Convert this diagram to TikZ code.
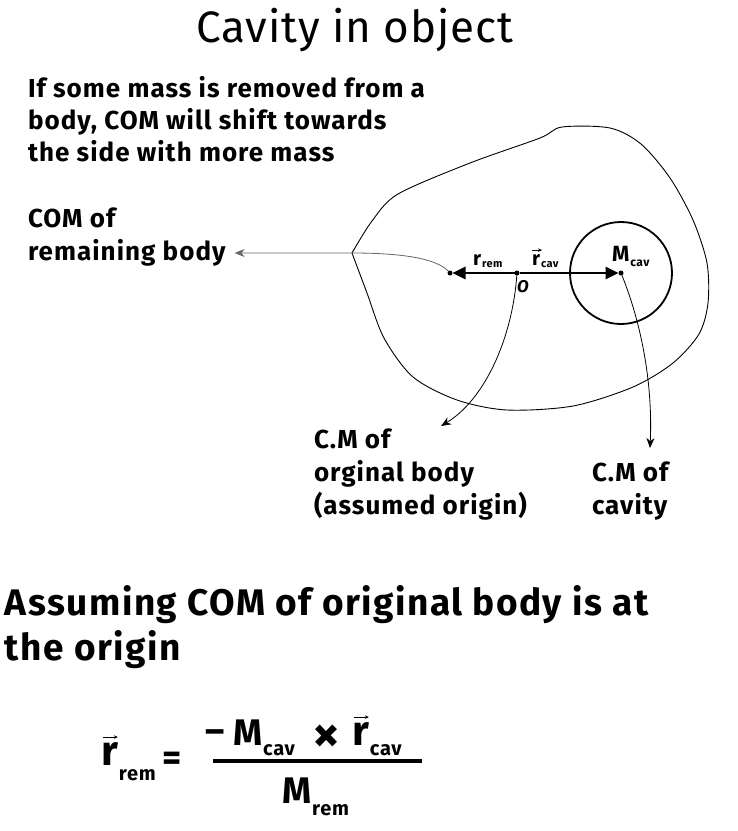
\documentclass[tikz,border=0pt]{standalone}
\usepackage{fontspec}
\setmainfont{Fira Sans}[LetterSpace=4]
\newfontfamily\titlefont{Fira Sans}[LetterSpace=2]
\usetikzlibrary{arrows.meta,calc}
\begin{document}
\begin{tikzpicture}[x=1pt,y=-1pt,
  every node/.style={inner sep=0pt,outer sep=0pt},
  titlest/.style={font=\titlefont\fontsize{44}{50}\selectfont,anchor=base},
  txt/.style={font=\bfseries\fontsize{26}{32}\selectfont,anchor=base west},
  bigtxt/.style={font=\bfseries\fontsize{37}{45}\selectfont,anchor=base west},
  fr/.style={font=\bfseries\fontsize{42}{46}\selectfont,anchor=base west},
  fm/.style={font=\bfseries\fontsize{37}{42}\selectfont,anchor=base west},
  fs/.style={font=\bfseries\fontsize{20}{22}\selectfont,anchor=base west},
  lr/.style={font=\bfseries\fontsize{20}{22}\selectfont,anchor=base west},
  lm/.style={font=\bfseries\fontsize{22}{24}\selectfont,anchor=base west},
  ls/.style={font=\bfseries\fontsize{11}{12}\selectfont,anchor=base west},
  dotst/.style={circle,fill=black,minimum size=5pt},
  conn/.style={line width=0.8pt,-{Stealth[length=10pt,width=8pt]}},
  vec/.style={line width=2.6pt,-{Triangle[length=13pt,width=12pt]}},
  varrow/.style={line width=0.7pt,-{Stealth[length=4pt,width=3.5pt]}}
]
\useasboundingbox (0,0) rectangle (738,831);

% title
\node[titlest] (title) at (355,42) {Cavity in object};

% intro text
\node[txt] (i1) at (28,97) {If some mass is removed from a};
\node[txt] (i2) at (28,129) {body, COM will shift towards};
\node[txt] (i3) at (28,161) {the side with more mass};

% body outline
\coordinate (lp) at (352,253);
\draw[line width=0.9pt] plot[smooth,tension=0.5] coordinates {(352,253) (372,221) (398,194) (470,163) (540,138) (562,127) (610,128) (641,144) (670,178) (693,220) (707,263) (708,303) (699,334) (673,363) (633,387) (573,406) (507,410) (457,400) (413,377) (384,338) (367,293) (352,253)};

% cavity
\draw[line width=1.8pt] (621,273) circle[radius=51pt];

% dots
\node[dotst] (rd) at (450,273) {};
\node[dotst] (od) at (517,273) {};
\node[dotst] (cd) at (621,273) {};

% vectors
\draw[vec] (od) -- (rd);
\draw[vec] (od) -- (cd);

% vector labels
\node[lr] (rr) at (473,265) {r};
\node[ls] (rrs) at ($(rr.base east)+(1,2)$) {rem};
\node[lr] (rc) at (532,265) {r};
\draw[varrow] ($(rc.north west)+(0,-4)$) -- ($(rc.north east)+(2,-4)$);
\node[ls] (rcs) at ($(rc.base east)+(1,2)$) {cav};
\node[lm] (mc) at (612,261) {M};
\node[ls,font=\bfseries\fontsize{12}{13}\selectfont] (mcs) at ($(mc.base east)+(1,5)$) {cav};
\node[font=\bfseries\itshape\fontsize{17}{18}\selectfont,anchor=base west] (o) at (517,292) {O};

% labels
\node[txt] (c1) at (28,227) {COM of};
\node[txt] (c2) at (28,260) {remaining body};
\coordinate (comtip) at ($(c2.base east)+(9,-7)$);

\node[txt] (a1) at (314,448) {C.M of};
\node[txt] (a2) at (314,481) {orginal body};
\node[txt] (a3) at (314,514) {(assumed origin)};
\coordinate (tip1) at (441,426);

\node[txt] (b1) at (592,481) {C.M of};
\node[txt] (b2) at (592,514) {cavity};
\coordinate (tip2) at (650,448);

% connectors
\draw[conn,gray!80!black] (rd) .. controls (436,258) and (400,253) .. (lp) -- (comtip);
\draw[conn] (od) .. controls (512,340) and (484,400) .. (tip1);
\draw[conn] (cd) .. controls (640,320) and (653,380) .. (tip2);

% assuming text
\node[bigtxt] (s1) at (5,615) {Assuming COM of original body is at};
\node[bigtxt] (s2) at (5,660) {the origin};

% formula
\node[fr] (r1) at (101,765) {r};
\draw[varrow] ($(r1.north west)+(2,-5)$) -- ($(r1.north east)+(0,-5)$);
\node[fs] (r1s) at ($(r1.base east)+(1,15)$) {rem};
\node[fm] (eq) at (162,770) {=};
\draw[line width=3.5pt] (213,761) -- (422,761);
\node[fm] (mn) at (205,743) {–};
\node[fm] (m1) at (233,745) {M};
\node[fs] (m1s) at ($(m1.base east)+(1,10)$) {cav};
\node[fm,font=\bfseries\fontsize{54}{56}\selectfont] (x) at (312,752) {×};
\node[fr] (r2) at (352,745) {r};
\draw[varrow] ($(r2.north west)+(2,-5)$) -- ($(r2.north east)+(0,-5)$);
\node[fs] (r2s) at ($(r2.base east)+(1,10)$) {cav};
\node[fm] (m2) at (282,803) {M};
\node[fs] (m2s) at ($(m2.base east)+(1,12)$) {rem};
\end{tikzpicture}
\end{document}
